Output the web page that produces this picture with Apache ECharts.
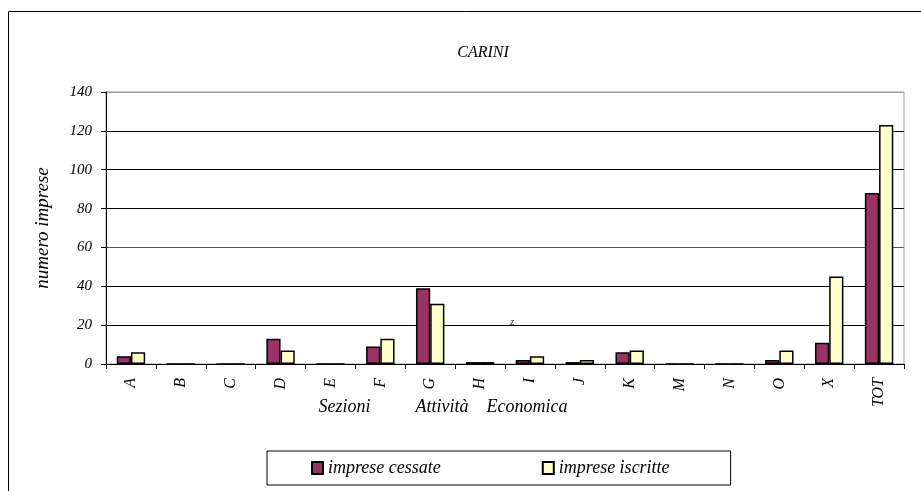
<!DOCTYPE html>
<html><head><meta charset="utf-8">
<script src="https://cdn.jsdelivr.net/npm/echarts@6/dist/echarts.min.js"></script>
<style>html,body{margin:0;padding:0;background:#fff}#c{width:921px;height:491px}</style>
</head><body><div id="c"></div>
<script>
const categories = ['A','B','C','D','E','F','G','H','I','J','K','M','N','O','X','TOT'];
const cessate   = [4,0,0,13,0,9,39,1,2,1,6,0,0,2,11,88];
const iscritte  = [6,0,0,7,0,13,31,1,4,2,7,0,0,7,45,123];
const yTicks = [0,20,40,60,80,100,120,140];

const F = 'Liberation Serif';
const chart = echarts.init(document.getElementById('c'));
chart.setOption({
  animation:false,
  backgroundColor:'#fff',
  textStyle:{fontFamily:F, fontStyle:'italic'},
  title:{text:'CARINI', left:478, top:40, textAlign:'center',
    textStyle:{fontFamily:F, fontStyle:'italic', fontWeight:'normal', fontSize:16, color:'#000'}},
  graphic:[
    {type:'rect', shape:{x:8.5,y:11.5,width:1000,height:1000}, style:{fill:null, stroke:'#000', lineWidth:1}},
    {type:'text', x:510, y:317, style:{text:'z', font:'italic 11px "Liberation Serif"', fill:'#333'}}
  ],
  legend:{left:267, top:451, padding:[8,61,8,44], itemGap:101, itemWidth:11, itemHeight:12, itemTextGap:11,
    borderColor:'#000', borderWidth:1,
    textStyle:{fontFamily:F, fontStyle:'italic', fontSize:18, color:'#000'},
    data:[{name:'imprese cessate', icon:'rect'},{name:'imprese iscritte', icon:'rect'}]},
  grid:{left:106, right:17, top:92, bottom:127, show:true, borderColor:'#999', borderWidth:1},
  xAxis:{type:'category', data:categories,
    axisLine:{lineStyle:{color:'#000', width:1}},
    axisTick:{show:true, alignWithLabel:false, length:5, lineStyle:{color:'#000'}},
    axisLabel:{rotate:90, fontFamily:F, fontStyle:'italic', fontSize:16, color:'#000', margin:14},
    name:'Sezioni          Attività    Economica', nameLocation:'middle', nameGap:34, nameMoveOverlap:false,
    nameTextStyle:{fontFamily:F, fontStyle:'italic', fontSize:18, color:'#000', padding:[0,124,0,0]}},
  yAxis:{type:'value', min:0, max:140, interval:20,
    axisLine:{show:true, lineStyle:{color:'#000'}},
    axisTick:{show:true, length:5, lineStyle:{color:'#000'}},
    axisLabel:{fontFamily:F, fontStyle:'italic', fontSize:15, color:'#000', margin:14,
      formatter:v=>yTicks.includes(v)?String(v):''},
    splitLine:{lineStyle:{color:['#000','#000','#000','#555','#000','#000','#000','#999'], width:1}},
    name:'numero imprese', nameLocation:'middle', nameGap:54, nameMoveOverlap:false,
    nameTextStyle:{fontFamily:F, fontStyle:'italic', fontSize:19, color:'#000'}},
  series:[
    {name:'imprese cessate', type:'bar', data:cessate, barGap:'0%', barCategoryGap:'43%',
     itemStyle:{color:'#993366', borderColor:'#000', borderWidth:1.5}},
    {name:'imprese iscritte', type:'bar', data:iscritte,
     itemStyle:{color:'#FFFFCC', borderColor:'#000', borderWidth:1.5}}
  ]
});
</script></body></html>
